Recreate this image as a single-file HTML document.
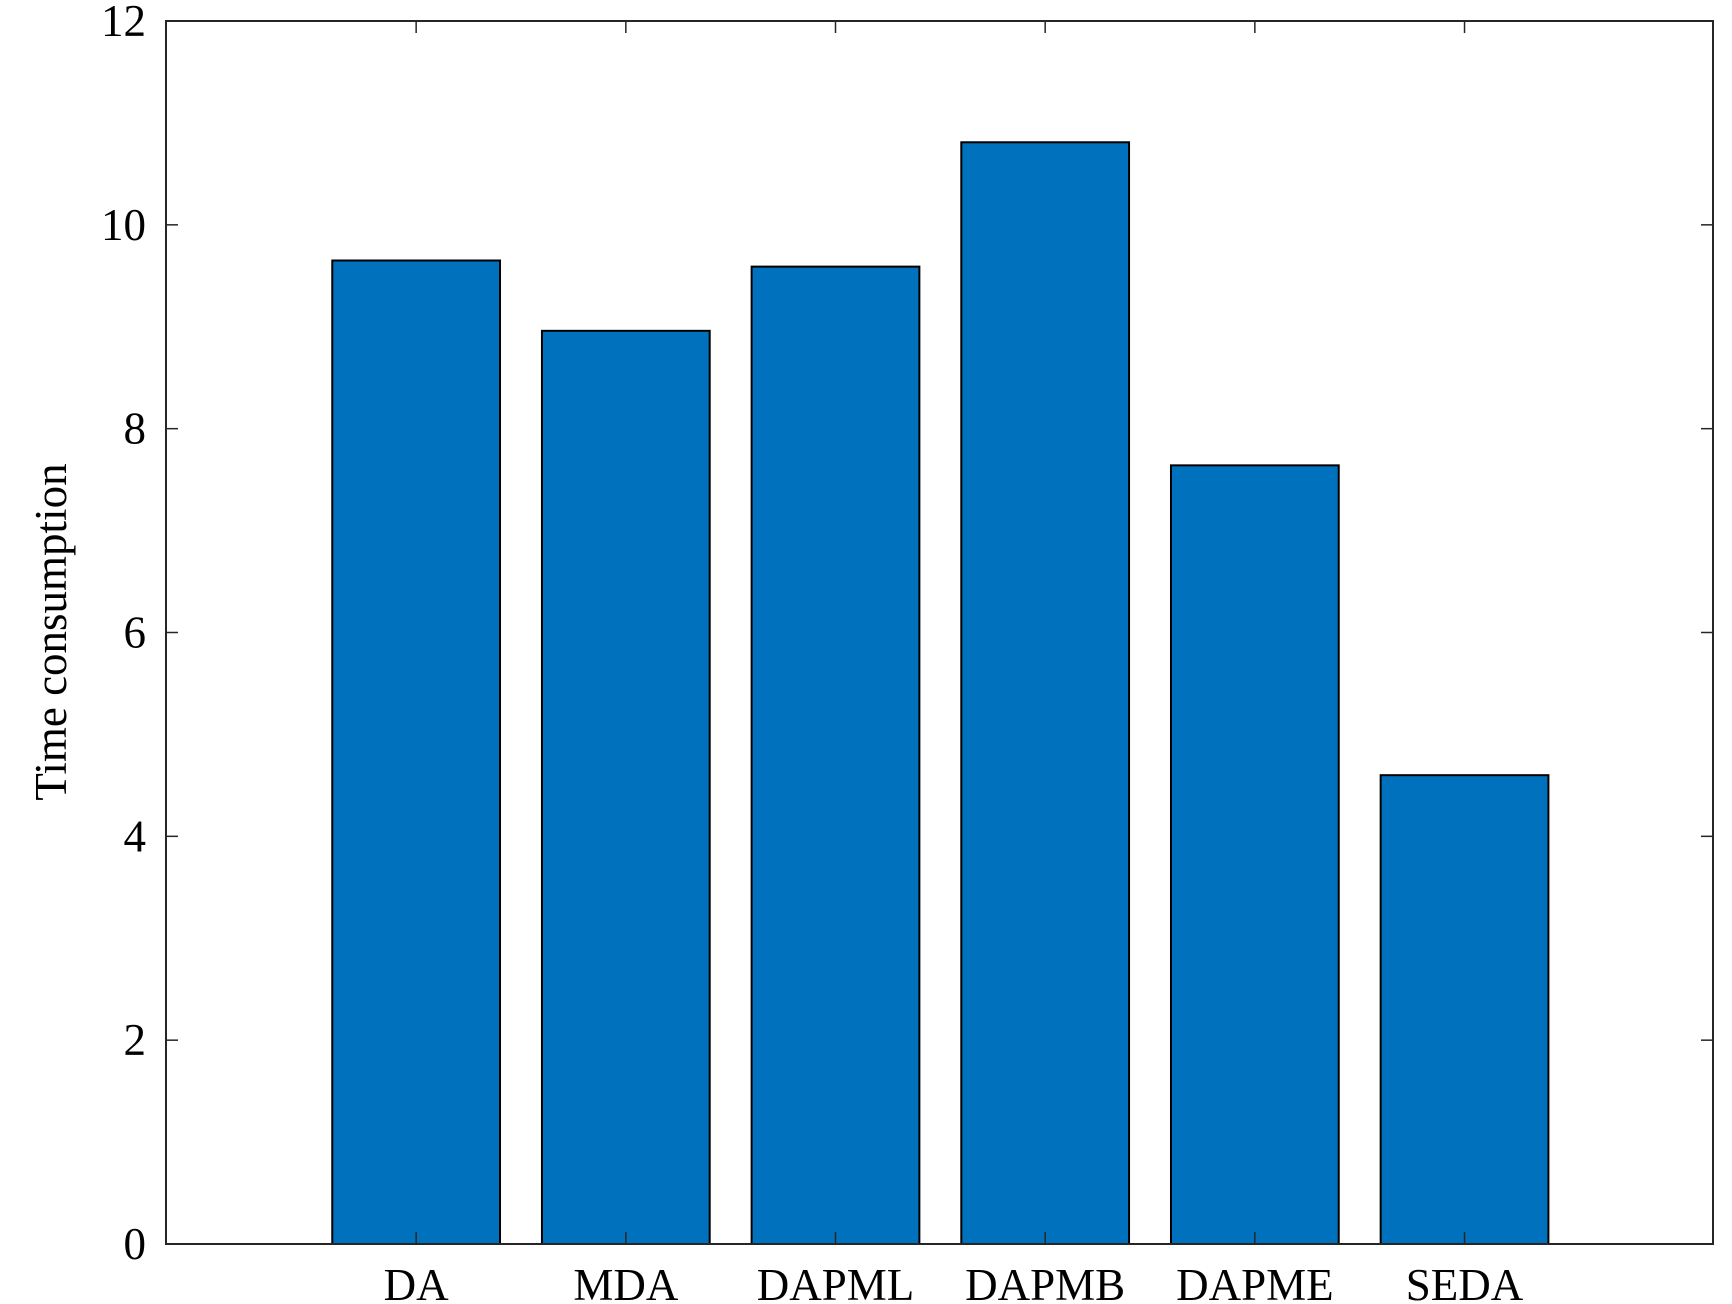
<!DOCTYPE html>
<html><head><meta charset="utf-8"><style>body{margin:0;background:#fff}svg{display:block}text{font-family:"Liberation Serif",serif;fill:#000}</style></head>
<body>
<svg id="chart" width="1732" height="1304"></svg>
<script>
const categories=["DA","MDA","DAPML","DAPMB","DAPME","SEDA"];
const values=[9.65,8.96,9.59,10.81,7.64,4.60];
const yTicks=[0,2,4,6,8,10,12];
const L=166,R=1713,T=21,B=1244;
const xMin=-0.193,xMax=7.185,yMin=0,yMax=12;
const x=v=>L+(v-xMin)/(xMax-xMin)*(R-L);
const y=v=>B-(v-yMin)/(yMax-yMin)*(B-T);
const svg=document.getElementById('chart');
const NS='http://www.w3.org/2000/svg';
function mk(tag,attrs,parent){const e=document.createElementNS(NS,tag);for(const k in attrs)e.setAttribute(k,attrs[k]);(parent||svg).appendChild(e);return e;}
const bw=(x(0.8)-x(0));
categories.forEach((c,i)=>{
  const r=mk('rect',{x:x(i+1)-bw/2,y:y(values[i]),width:bw,height:y(0)-y(values[i]),fill:'#0072BD',stroke:'#000','stroke-width':2});
  
  
  const t=mk('text',{x:x(i+1),y:1300,'text-anchor':'middle','font-size':45});
  t.textContent=c;
  
  
  mk('line',{x1:x(i+1),x2:x(i+1),y1:B,y2:B-12,stroke:'#262626','stroke-width':1.5});
  mk('line',{x1:x(i+1),x2:x(i+1),y1:T,y2:T+12,stroke:'#262626','stroke-width':1.5});
});
yTicks.forEach(v=>{
  mk('line',{x1:L,x2:L+12,y1:y(v),y2:y(v),stroke:'#262626','stroke-width':1.5});
  mk('line',{x1:R,x2:R-12,y1:y(v),y2:y(v),stroke:'#262626','stroke-width':1.5});
  const t=mk('text',{x:146,y:y(v)+15,'text-anchor':'end','font-size':45});
  t.textContent=v;
  
  
});
const box=mk('rect',{x:L,y:T,width:R-L,height:B-T,fill:'none',stroke:'#262626','stroke-width':2});


const yl=mk('text',{x:0,y:0,'text-anchor':'middle','font-size':45,transform:'translate(66,632) rotate(-90)'});
yl.textContent='Time consumption';


</script>
</body></html>
